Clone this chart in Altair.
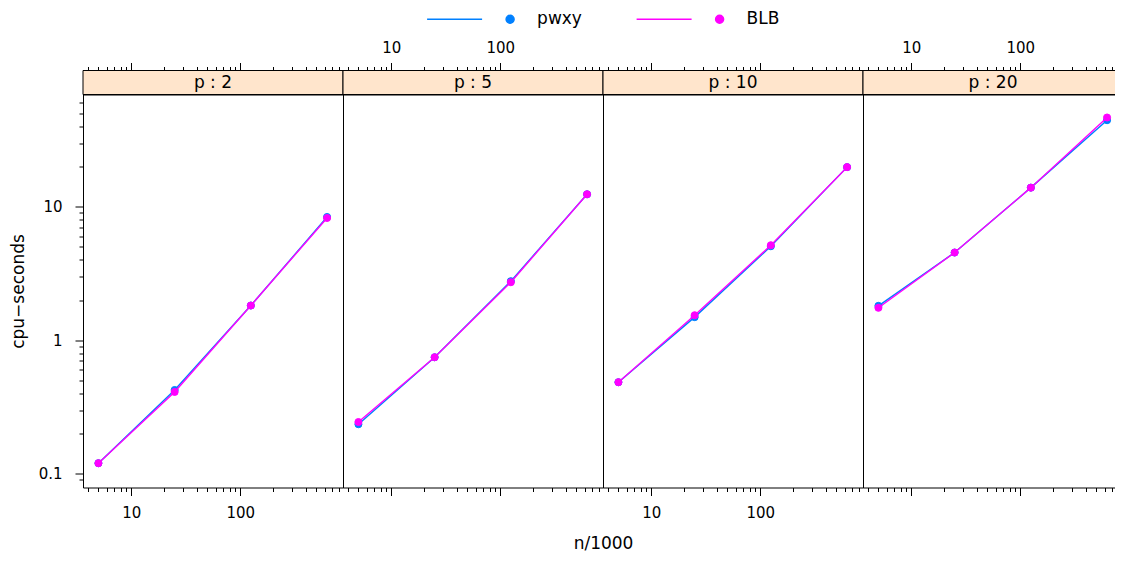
import altair as alt
import pandas as pd

# ---------------- data ----------------
panel_labels = ["p : 2", "p : 5", "p : 10", "p : 20"]
p_values = [2, 5, 10, 20]
n_thousands = [5, 25, 125, 625]
series_names = ["pwxy", "BLB"]
series_colors = ["#0080ff", "#ff00ff"]

pwxy_p2 = [0.120, 0.424, 1.82, 8.38]
BLB_p2 = [0.120, 0.410, 1.82, 8.24]
pwxy_p5 = [0.235, 0.746, 2.77, 12.4]
BLB_p5 = [0.244, 0.746, 2.72, 12.4]
pwxy_p10 = [0.485, 1.49, 5.06, 19.8]
BLB_p10 = [0.485, 1.54, 5.15, 19.8]
pwxy_p20 = [1.81, 4.54, 13.9, 44.5]
BLB_p20 = [1.75, 4.54, 13.9, 46.6]

x_major = [10, 100]
x_minor = [4, 5, 6, 7, 8, 9, 20, 30, 40, 50, 60, 70, 80, 90,
           200, 300, 400, 500, 600, 700, 800]
y_major = [0.1, 1, 10]
y_minor = [0.09, 0.2, 0.3, 0.4, 0.5, 0.6, 0.7, 0.8, 0.9,
           2, 3, 4, 5, 6, 7, 8, 9, 20, 30, 40, 50, 60]

values = {
    2: {"pwxy": pwxy_p2, "BLB": BLB_p2},
    5: {"pwxy": pwxy_p5, "BLB": BLB_p5},
    10: {"pwxy": pwxy_p10, "BLB": BLB_p10},
    20: {"pwxy": pwxy_p20, "BLB": BLB_p20},
}
rows = []
for p in p_values:
    for s in series_names:
        for n, v in zip(n_thousands, values[p][s]):
            rows.append({"p": p, "series": s, "n": n, "sec": v})
df = pd.DataFrame(rows)

# ---------------- layout ----------------
W, H, STRIP = 260, 393, 24
FONT = "DejaVu Sans"
xs = alt.Scale(type="log", domain=[3.61, 875], nice=False)
ys = alt.Scale(type="log", domain=[0.0789, 69.3], nice=False)
col_scale = alt.Scale(domain=series_names, range=series_colors)

LEGEND_PATH = "M -20.75 0 L -7 0 M 1 0 A 1 1 0 1 1 -1 0 A 1 1 0 1 1 1 0 Z"


def panel(i):
    p = p_values[i]
    first = i == 0
    bottom_labels = (i % 2 == 0)
    base = alt.Chart(df).transform_filter(alt.datum.p == p)
    blue = base.transform_filter(alt.datum.series == "pwxy")
    mag = base.transform_filter(alt.datum.series == "BLB")

    if first:
        ax_bottom_major = alt.Axis(orient="bottom", values=x_major, tickSize=8,
                                   labels=True, labelPadding=10,
                                   title="n/1000", titleX=520, titleY=56,
                                   titleBaseline="middle", titleAlign="center")
    else:
        ax_bottom_major = alt.Axis(orient="bottom", values=x_major, tickSize=8,
                                   labels=bottom_labels, labelPadding=10, title=None)
    ax_bottom_minor = alt.Axis(orient="bottom", values=x_minor, tickSize=4,
                               labels=False, title=None)
    ax_top_major = alt.Axis(orient="top", values=x_major, tickSize=8,
                            labels=not bottom_labels, labelPadding=7,
                            offset=STRIP, title=None)
    ax_top_minor = alt.Axis(orient="top", values=x_minor, tickSize=4,
                            labels=False, offset=STRIP, title=None)

    if first:
        ay_major = alt.Axis(orient="left", values=y_major, tickSize=8,
                            labelPadding=13, format="~g",
                            title="cpu\u2212seconds", titleX=-65, titleY=H / 2,
                            titleAngle=270, titleBaseline="middle",
                            titleAlign="center")
        ay_minor = alt.Axis(orient="left", values=y_minor, tickSize=4,
                            labels=False, title=None)
    else:
        ay_major = None
        ay_minor = None

    stroke = alt.Stroke("series:N", scale=col_scale, title=None)
    fill = alt.Fill("series:N", scale=col_scale, title=None)

    strip_df = pd.DataFrame({"label": [panel_labels[i]]})
    strip_rect = alt.Chart(strip_df).mark_rect(
        fill="#ffe5cc", stroke="black", strokeWidth=1
    ).encode(x=alt.value(0), x2=alt.value(W), y=alt.value(-STRIP), y2=alt.value(0))
    strip_text = alt.Chart(strip_df).mark_text(
        font=FONT, fontSize=17, baseline="middle", align="center", color="black"
    ).encode(x=alt.value(W / 2), y=alt.value(-STRIP / 2), text="label:N")

    l1 = blue.mark_line(strokeWidth=1.4).encode(
        x=alt.X("n:Q", scale=xs, axis=ax_bottom_major),
        y=alt.Y("sec:Q", scale=ys, axis=ay_major),
        stroke=stroke,
    )
    p1 = blue.mark_point(filled=True, size=50, strokeWidth=1, opacity=1).encode(
        x=alt.X("n:Q", scale=xs, axis=ax_bottom_minor),
        y=alt.Y("sec:Q", scale=ys, axis=ay_minor),
        stroke=stroke, fill=fill,
    )
    l2 = mag.mark_line(strokeWidth=1.4).encode(
        x=alt.X("n:Q", scale=xs, axis=ax_top_major),
        y=alt.Y("sec:Q", scale=ys, axis=None),
        stroke=stroke,
    )
    p2 = mag.mark_point(filled=True, size=50, strokeWidth=1, opacity=1).encode(
        x=alt.X("n:Q", scale=xs, axis=ax_top_minor),
        y=alt.Y("sec:Q", scale=ys, axis=None),
        stroke=stroke, fill=fill,
    )
    return alt.layer(strip_rect, strip_text, l1, p1, l2, p2).resolve_axis(
        x="independent", y="independent"
    ).properties(width=W, height=H)


chart = alt.hconcat(*[panel(i) for i in range(4)], spacing=0, bounds="flush").properties(
    padding={"left": 0, "top": 2.5, "right": -9, "bottom": 0}
).configure_view(
    stroke="black", strokeWidth=1
).configure_axis(
    domain=False, grid=False, tickColor="black", tickWidth=1,
    labelColor="black", labelFont=FONT, labelFontSize=15,
    titleColor="black", titleFont=FONT, titleFontSize=17, titleFontWeight="normal",
).configure_legend(
    orient="none", legendX=418.6, legendY=-84, direction="horizontal", columns=2,
    symbolType=LEGEND_PATH, symbolSize=64, symbolStrokeWidth=1.5,
    labelOffset=18.5, columnPadding=50.5, padding=0,
    labelFont=FONT, labelFontSize=17, labelColor="black",
)

chart.save("out.html", embed_options={"renderer": "svg", "actions": False})
